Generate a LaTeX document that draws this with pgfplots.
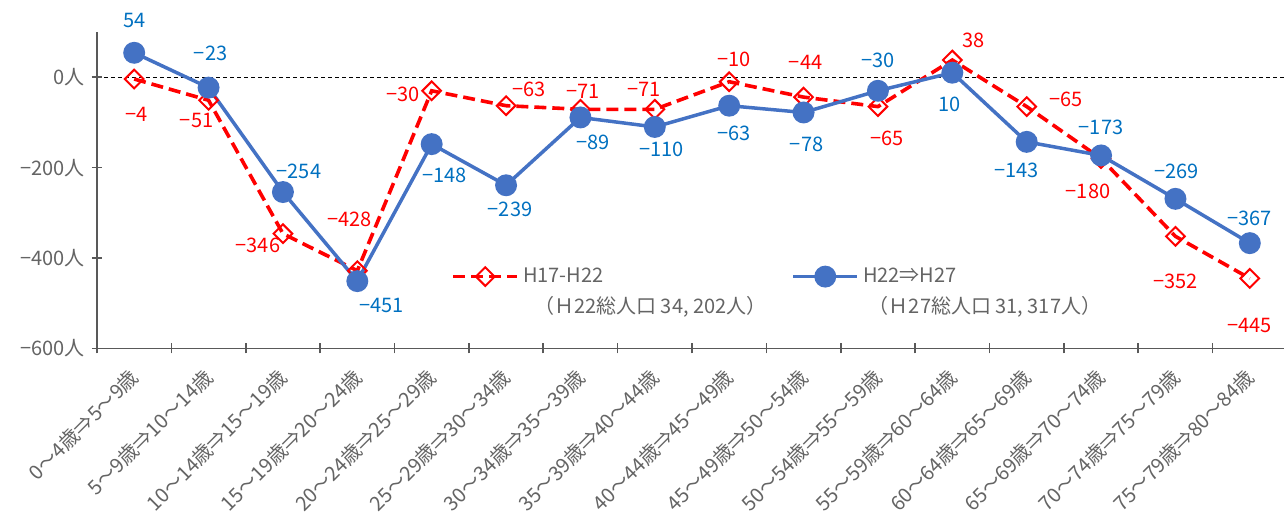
\documentclass[border=0pt]{standalone}
\usepackage{fontspec}
\setmainfont{Noto Sans CJK JP}
\usepackage{pgfplots}
\usepackage{pgfplotstable}
\pgfplotsset{compat=1.18}
\definecolor{myred}{RGB}{255,0,0}
\definecolor{myblue}{RGB}{68,114,196}
\definecolor{lblblue}{RGB}{0,112,192}
\definecolor{axgray}{RGB}{89,89,89}
\definecolor{tgray}{RGB}{100,100,100}
\newcommand{\fs}{\fontsize{10}{12}\selectfont}
\newcommand{\fx}{\fontsize{10}{12}\selectfont}

\pgfplotstableread{
x y dx dy lbl
0 -4 1 -17.5 −4
1 -51 -6 -10 −51
2 -346 -12.5 -6 −346
3 -428 -4 25.5 −428
4 -30 -14.5 -2 −30
5 -63 11.5 8 −63
6 -71 1.5 9 −71
7 -71 -5.5 10 −71
8 -10 2.5 11 −10
9 -44 1 17.5 −44
10 -65 4.5 -16 −65
11 38 10.5 10 38
12 -65 19.5 3.5 −65
13 -180 -6.5 -16.5 −180
14 -352 0 -22.5 −352
15 -445 0 -23.5 −445
}\tred

\pgfplotstableread{
x y dx dy lbl
0 54 0 16 54
1 -23 1 17 −23
2 -254 8 10.5 −254
3 -451 12 -12 −451
4 -148 6.5 -15.5 −148
5 -239 2 -12 −239
6 -89 6.5 -12.5 −89
7 -110 3.5 -11 −110
8 -63 2.5 -14 −63
9 -78 1.5 -16 −78
10 -30 0 15 −30
11 10 -1.5 -16 10
12 -143 -5 -14.5 −143
13 -173 0 14 −173
14 -269 0.5 13.5 −269
15 -367 0 12.5 −367
}\tblue

\begin{document}
\begin{tikzpicture}
\begin{axis}[
  name=ax,
  scale only axis,
  width=595pt, height=158.25pt,
  xmin=-0.5, xmax=15.5,
  ymin=-600, ymax=100,
  clip=false,
  axis lines=left,
  axis line style={axgray, line width=0.8pt, -},
  xtick={-0.5,0.5,...,15.5},
  x tick label as interval=true,
  xticklabels={0～4歳⇒5～9歳,5～9歳⇒10～14歳,10～14歳⇒15～19歳,15～19歳⇒20～24歳,20～24歳⇒25～29歳,25～29歳⇒30～34歳,30～34歳⇒35～39歳,35～39歳⇒40～44歳,40～44歳⇒45～49歳,45～49歳⇒50～54歳,50～54歳⇒55～59歳,55～59歳⇒60～64歳,60～64歳⇒65～69歳,65～69歳⇒70～74歳,70～74歳⇒75～79歳,75～79歳⇒80～84歳},
  x tick label style={xshift=-3pt, yshift=-6.5pt, rotate=45, anchor=north east, font=\fx, text=tgray, inner sep=0pt},
  ytick={-600,-400,-200,0},
  yticklabels={−600人,−400人,−200人,0人},
  y tick label style={font=\fs, text=tgray},
  tick align=center,
  major tick length=5pt,
  tick style={axgray, line width=0.8pt},
  extra y ticks={0},
  extra y tick labels={},
  extra y tick style={grid=major, major grid style={black, dash pattern=on 2pt off 1.5pt, line width=0.5pt}},
  legend columns=2,
  legend style={at={(axis cs:4.18,-441)}, anchor=west, draw=none, fill=none, font=\fs, text=tgray,
    /tikz/every even column/.append style={column sep=92pt}},
  legend image code/.code={\draw[mark repeat=2, mark phase=2, #1] plot coordinates {(0pt,0pt) (16pt,0pt) (32pt,0pt)};},
]
\addplot[myred, line width=1.8pt, dash pattern=on 6pt off 3pt,
  mark=square, mark size=3.3pt, mark options={solid, rotate=45, fill=white, line width=1pt},
  nodes near coords, point meta=explicit symbolic,
  visualization depends on={\thisrow{dx}\as\dx},
  visualization depends on={\thisrow{dy}\as\dy},
  every node near coord/.append style={anchor=center, xshift=\dx pt, yshift=\dy pt, text=myred, font=\fs}]
  table[x=x, y=y, meta=lbl]{\tred};
\addlegendentry{H17-H22}
\addplot[myblue, line width=1.75pt, solid,
  mark=*, mark size=4.6pt, mark options={solid, fill=myblue},
  nodes near coords, point meta=explicit symbolic,
  visualization depends on={\thisrow{dx}\as\dx},
  visualization depends on={\thisrow{dy}\as\dy},
  every node near coord/.append style={anchor=center, xshift=\dx pt, yshift=\dy pt, text=lblblue, font=\fs}]
  table[x=x, y=y, meta=lbl]{\tblue};
\addlegendentry{H22⇒H27}
\node[font=\fs, text=tgray] at (axis cs:6.94,-507) {（Ｈ22総人口 34, 202人）};
\node[font=\fs, text=tgray] at (axis cs:11.44,-507) {（Ｈ27総人口 31, 317人）};
\end{axis}
\pgfresetboundingbox
\path[use as bounding box] ([xshift=-48.5pt,yshift=-83.5pt]ax.south west) rectangle ([xshift=-1.5pt,yshift=16pt]ax.north east);
\end{tikzpicture}
\end{document}
